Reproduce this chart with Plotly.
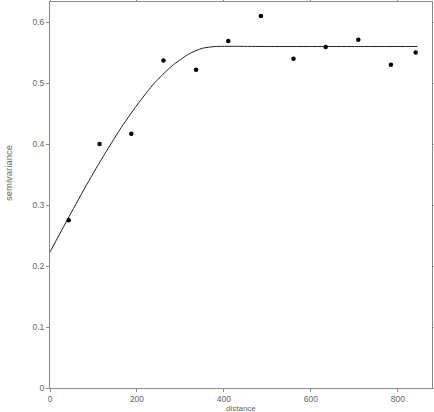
import plotly.graph_objects as go

# empirical semivariogram
distance = [43, 114, 187, 261, 336, 410, 485, 560, 634, 709, 784, 841]
semivariance = [0.275, 0.400, 0.417, 0.537, 0.522, 0.569, 0.610, 0.540, 0.559, 0.571, 0.530, 0.550]

# fitted model line
model_distance = [0, 40, 80, 120, 160, 200, 240, 280, 320, 350, 380, 500, 700, 845]
model_semivariance = [0.223, 0.276, 0.328, 0.377, 0.423, 0.464, 0.500, 0.528, 0.548, 0.557, 0.560,
                      0.560, 0.560, 0.560]

x_ticks = [0, 200, 400, 600, 800]
y_ticks = [0, 0.1, 0.2, 0.3, 0.4, 0.5, 0.6]
y_tick_labels = ["0", "0.1", "0.2", "0.3", "0.4", "0.5", "0.6"]


def main():
    fig = go.Figure()
    fig.add_scatter(x=model_distance, y=model_semivariance, mode="lines",
                    line=dict(color="#222222", width=1, shape="spline", smoothing=0.6),
                    showlegend=False)
    fig.add_scatter(x=distance, y=semivariance, mode="markers",
                    marker=dict(color="black", size=4.5), showlegend=False)

    axis_style = dict(showline=True, linecolor="#8a8a8a", linewidth=1, mirror="ticks",
                      ticks="outside", ticklen=3, tickcolor="#8a8a8a", showgrid=False,
                      zeroline=False, automargin=False,
                      tickfont=dict(family="Liberation Sans", size=8.5, color="#666666"))
    fig.update_xaxes(range=[0, 878.5], tickvals=x_ticks, **axis_style)
    fig.update_yaxes(range=[0, 0.633], tickvals=y_ticks, ticktext=y_tick_labels, **axis_style)

    fig.add_annotation(text="distance", xref="paper", yref="paper", x=0.5, y=-0.052,
                       showarrow=False, yanchor="middle",
                       font=dict(family="Liberation Sans", size=8, color="#666666"))
    fig.add_annotation(text="semivariance", xref="paper", yref="paper", x=-0.109, y=0.558,
                       showarrow=False, textangle=-90, xanchor="center", yanchor="middle",
                       font=dict(family="Liberation Sans", size=9.5, color="#666666"))

    fig.update_layout(width=434, height=412, margin=dict(l=50, r=2, t=2, b=24),
                      plot_bgcolor="white", paper_bgcolor="white")
    # drop the page's default body margin so the figure sits at the window's corner
    fig.write_html("out.html", config={"displayModeBar": False},
                   post_script="document.body.style.margin='0';")


if __name__ == "__main__":
    main()
